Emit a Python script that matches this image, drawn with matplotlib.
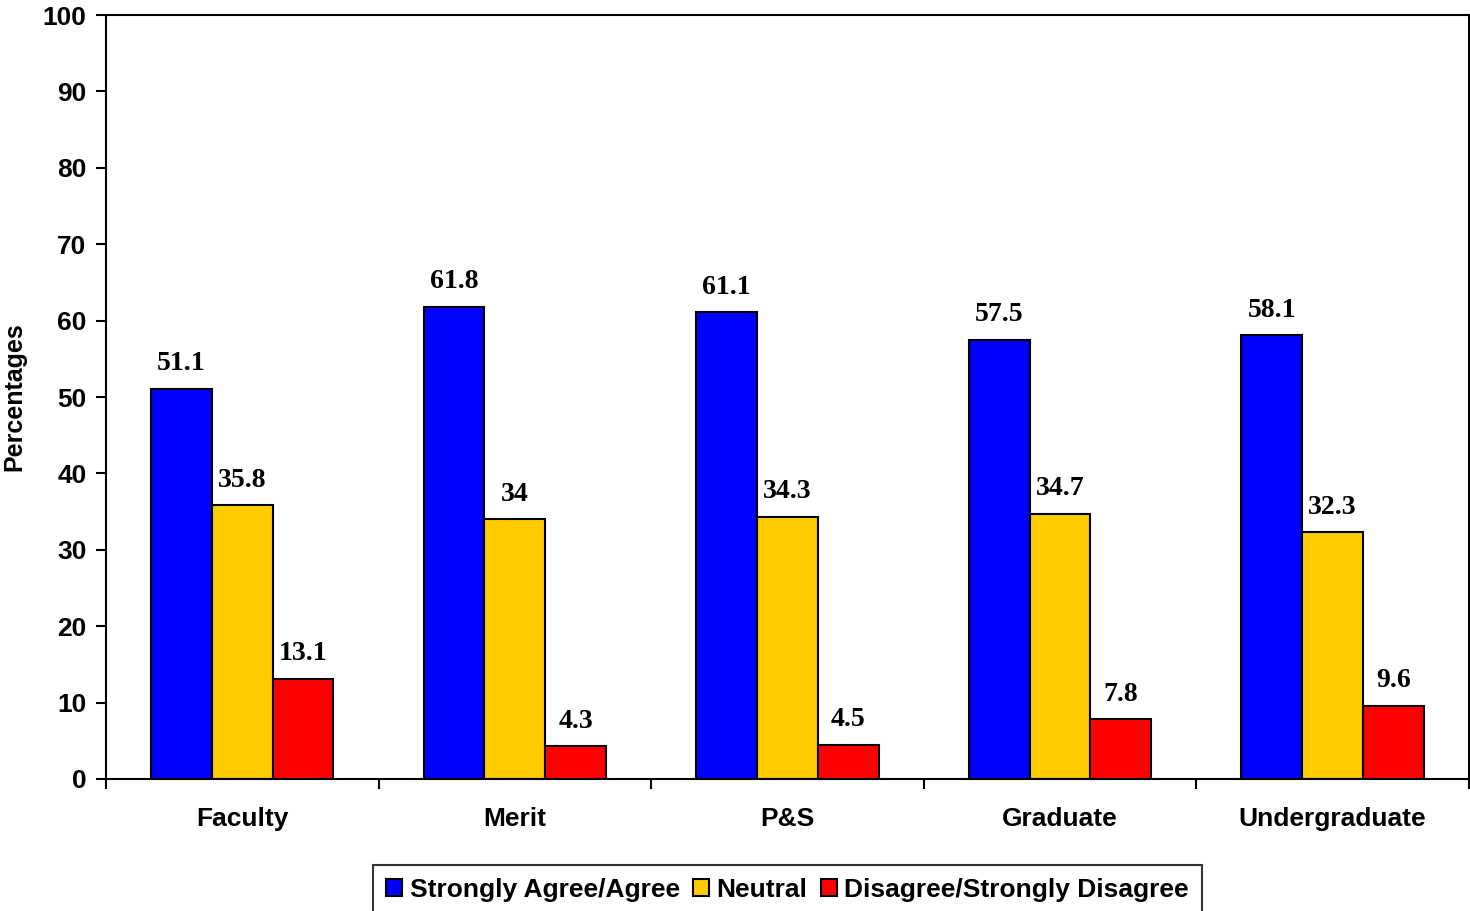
import numpy as np
import matplotlib.pyplot as plt

# data
categories = ['Faculty', 'Merit', 'P&S', 'Graduate', 'Undergraduate']
agree = [51.1, 61.8, 61.1, 57.5, 58.1]
neutral = [35.8, 34, 34.3, 34.7, 32.3]
disagree = [13.1, 4.3, 4.5, 7.8, 9.6]
series_names = ['Strongly Agree/Agree', 'Neutral', 'Disagree/Strongly Disagree']
colors = ['#0000FF', '#FFCC00', '#FF0000']

SANS = 'Liberation Sans'
SERIF = 'Liberation Serif'

fig = plt.figure(figsize=(14.7, 9.11), dpi=100)
ax = fig.add_axes([0.0721, 0.1449, 0.9272, 0.8386])

x = np.arange(len(categories))
width = 0.223
for k, (vals, name, col) in enumerate(zip([agree, neutral, disagree], series_names, colors)):
    pos = x + (k - 1) * width
    bars = ax.bar(pos, vals, width, color=col, edgecolor='black', linewidth=1.5, label=name)
    for b, v in zip(bars, vals):
        ax.annotate(f'{v:g}', (b.get_x() + b.get_width() / 2, v), xytext=(0, 9),
                    textcoords='offset points', ha='center', va='bottom',
                    fontsize=20, fontweight='bold', family=SERIF)

ax.set_xlim(-0.5, len(categories) - 0.5)
ax.set_ylim(0, 100)
ax.set_yticks(range(0, 101, 10))
ax.set_yticklabels([str(t) for t in range(0, 101, 10)], fontsize=19, fontweight='bold', family=SANS)

# category labels between boundary ticks
ax.set_xticks(np.arange(-0.5, len(categories), 1.0))
ax.set_xticklabels([])
ax.set_xticks(x, minor=True)
ax.set_xticklabels(categories, minor=True, fontsize=19, fontweight='bold', family=SANS)
ax.tick_params(axis='x', which='minor', length=0, pad=20)
ax.tick_params(axis='x', which='major', length=7, width=1.5, direction='out')
ax.tick_params(axis='y', length=7, width=1.5, direction='out', pad=7)

for s in ax.spines.values():
    s.set_linewidth(1.5)

fig.text(14 / 1470, 0.5642, 'Percentages', rotation=90, ha='center', va='center',
         fontsize=18, fontweight='bold', family=SANS)

leg = ax.legend(loc='upper center', bbox_to_anchor=(0.5, -0.112), ncol=3,
                frameon=True, fancybox=False, edgecolor='black',
                prop={'family': SANS, 'weight': 'bold', 'size': 19},
                handlelength=0.6, handleheight=0.6, handletextpad=0.3,
                columnspacing=0.5, borderpad=0.5, borderaxespad=0)
leg.get_frame().set_linewidth(1.5)

fig.savefig('out.png', dpi=100)
